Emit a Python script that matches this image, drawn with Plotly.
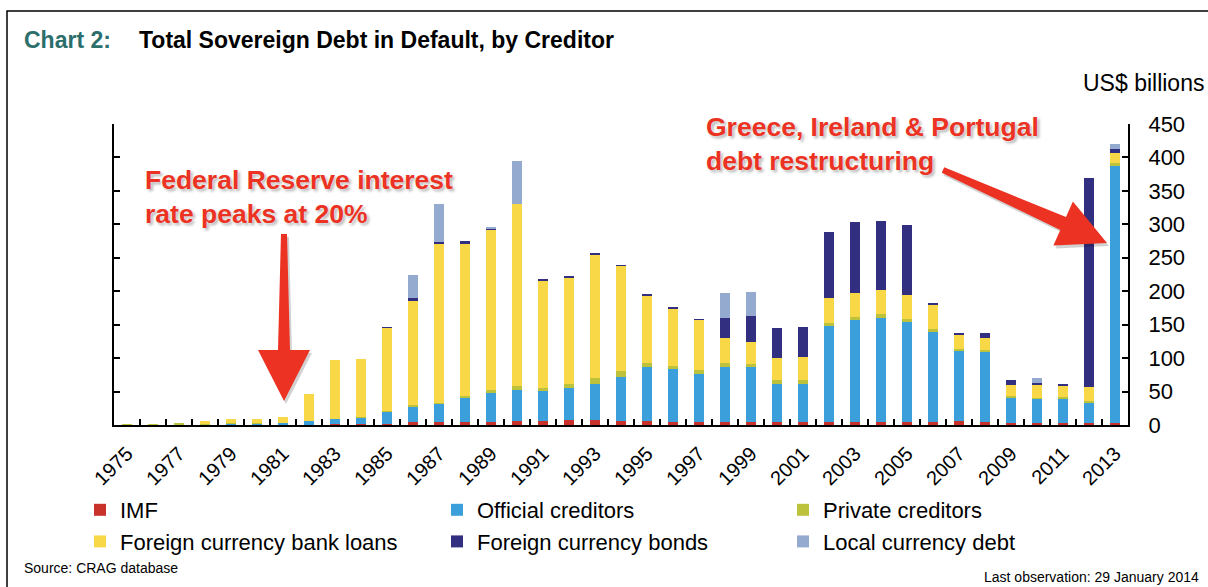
import numpy as np
import plotly.graph_objects as go

# ---- data (US$ billions) ----
years = list(range(1975, 2014))

imf = [0, 0, 0, 0, 0, 0, 0, 0.5, 1, 1.5, 2, 4, 5, 5, 5, 6, 6, 7, 7, 6,
       6, 4, 4, 4, 4, 4, 4, 4, 4, 4, 4, 4, 6, 4, 3, 3, 3, 3, 3]
official = [0, 0, 0, 1, 2, 2, 3, 5.5, 8, 10, 18, 24, 27, 36, 43, 46, 45, 49, 55, 66,
            80, 79, 73, 83, 83, 57, 58, 144, 153, 156, 150, 135, 105, 105, 37, 36, 36, 31, 384]
private = [1, 1.5, 2, 0.5, 0.5, 0.5, 0.5, 0.5, 0.5, 0.5, 1, 2, 1, 2, 4, 6, 5, 6, 8, 8,
           7, 5, 5, 5, 4, 6, 6, 5, 5, 6, 5, 4, 2.5, 3.5, 3, 1.5, 2.5, 2, 5]
bank_loans = [0, 0, 0, 5, 7, 6, 8.5, 39.5, 87.5, 86, 125, 156, 237, 228, 240, 272, 160, 159, 185, 158,
              101, 86, 75, 38.5, 33.5, 32.5, 34, 37.5, 36, 36, 35.5, 36.5, 21, 18, 17.5, 19, 16.5, 21, 15]
bonds = [0, 0, 0, 0, 0, 0, 0, 0, 0, 0, 0.5, 4, 4, 4, 2, 0, 1, 2, 1, 1,
         1, 1, 1, 30, 39, 45, 44, 98, 105, 103, 105, 3, 3.5, 7, 7.5, 4, 3, 313, 5]
local = [0, 0, 0, 0, 0, 0, 0, 0, 0, 0, 0, 34, 56, 0, 2, 65, 0, 0, 0, 0,
         0, 0, 0, 36.5, 35.5, 0, 0, 0, 0, 0, 0, 0, 0, 0, 0, 7.5, 0, 0, 8.5]

# (name, values, colour, legend column)
series = [
    ("IMF", imf, "#C8322B", "legend"),
    ("Official creditors", official, "#3A9FDB", "legend2"),
    ("Private creditors", private, "#BDC23C", "legend3"),
    ("Foreign currency bank loans", bank_loans, "#F9D848", "legend"),
    ("Foreign currency bonds", bonds, "#332F80", "legend2"),
    ("Local currency debt", local, "#94AACF", "legend3"),
]

x_labels = [str(y) for y in years]
tick_text = [str(y) if y % 2 == 1 else "" for y in years]

# ---- page geometry (pixels) ----
W, H = 1208, 587
L, R, T, B = 114, 80, 124, 162
PW, PH = W - L - R, H - T - B


def px(X):
    return (X - L) / PW


def py(Y):
    return (H - B - Y) / PH


def poly_path(pts):
    return "M " + " L ".join(f"{px(a):.5f},{py(b):.5f}" for a, b in pts) + " Z"


def arrow_pts(start, tip, w0, w1, head_len, head_half):
    s, t = np.array(start, float), np.array(tip, float)
    u = (t - s) / np.linalg.norm(t - s)
    n = np.array([-u[1], u[0]])
    base = t - head_len * u
    return [tuple(s + w0 * n), tuple(base + w1 * n), tuple(base + head_half * n),
            tuple(t), tuple(base - head_half * n), tuple(base - w1 * n), tuple(s - w0 * n)]


FONT = "Liberation Sans, Arial, sans-serif"
RED = "#EC3223"

fig = go.Figure()
for name, vals, color, lg in series:
    fig.add_trace(go.Bar(x=x_labels, y=vals, name=name, marker_color=color,
                         marker_line_width=0, legend=lg))


def legend_col(x_pix):
    return dict(orientation="v", traceorder="normal",
                xref="container", yref="container",
                x=x_pix / W, y=1 - 489 / H, xanchor="left", yanchor="top",
                font=dict(size=22, family=FONT), itemwidth=30, tracegroupgap=0,
                bgcolor="rgba(0,0,0,0)", borderwidth=0)


fig.update_layout(
    width=W, height=H,
    margin=dict(l=L, r=R, t=T, b=B, pad=0, autoexpand=False),
    barmode="stack", bargap=0.58,
    plot_bgcolor="white", paper_bgcolor="white",
    font=dict(family=FONT, color="black"),
    showlegend=True,
    legend=legend_col(80), legend2=legend_col(437), legend3=legend_col(783),
)

fig.update_xaxes(type="category", tickson="boundaries", ticks="inside", ticklen=6,
                 tickwidth=1.5, tickcolor="black", showline=True, linecolor="black",
                 linewidth=2, tickangle=-45, tickmode="array", tickvals=x_labels,
                 ticktext=tick_text, tickfont=dict(size=20, family=FONT),
                 ticklabelstandoff=7, showgrid=False, zeroline=False)

fig.update_yaxes(side="right", range=[0, 450], dtick=50, ticks="inside", ticklen=6,
                 tickwidth=1.5, tickcolor="black", showline=True, linecolor="black",
                 linewidth=2, mirror="ticks", tickfont=dict(size=22, family=FONT),
                 ticklabelstandoff=14, showgrid=False, zeroline=False)

shadow = "0px 0px 3px white, 2px 2px 3px rgba(0,0,0,0.35)"
annotations = [
    dict(text="<b>Chart 2:</b>", x=px(22), y=py(40), xanchor="left", yanchor="middle",
         font=dict(size=23, color="#2B6E6B")),
    dict(text="<b>Total Sovereign Debt in Default, by Creditor</b>", x=px(137), y=py(40),
         xanchor="left", yanchor="middle", font=dict(size=23, color="black")),
    dict(text="US$ billions", x=px(1206), y=py(83), xanchor="right", yanchor="middle",
         font=dict(size=23, color="black")),
    dict(text="Source: CRAG database", x=px(22), y=py(568), xanchor="left", yanchor="middle",
         font=dict(size=14, color="black")),
    dict(text="Last observation: 29 January 2014", x=px(1201), y=py(577), xanchor="right",
         yanchor="middle", font=dict(size=14, color="black")),
    dict(text="<b>Federal Reserve interest<br>rate peaks at 20%</b>", x=px(143), y=py(197),
         xanchor="left", yanchor="middle", align="left",
         font=dict(size=26.5, color=RED, shadow=shadow)),
    dict(text="<b>Greece, Ireland & Portugal<br>debt restructuring</b>", x=px(704), y=py(144),
         xanchor="left", yanchor="middle", align="left",
         font=dict(size=26.5, color=RED, shadow=shadow)),
]
for a in annotations:
    a.update(xref="paper", yref="paper", showarrow=False)
    a["font"].setdefault("family", FONT)
fig.update_layout(annotations=annotations)

# callout arrows and outer frame
fed = arrow_pts((284, 234), (284, 401), 3, 6, 51, 26)
grc = arrow_pts((943, 170), (1107, 243), 3, 7, 48, 24)
shapes = []
for pts in (fed, grc):
    shade = [(a + 2, b + 3) for a, b in pts]
    shapes.append(dict(type="path", path=poly_path(shade), fillcolor="rgba(0,0,0,0.18)",
                       line_width=0, layer="above"))
    shapes.append(dict(type="path", path=poly_path(pts), fillcolor=RED,
                       line_width=0, layer="above"))
shapes.append(dict(type="path", path=f"M {px(7)},{py(600)} L {px(7)},{py(11)} L {px(1215)},{py(11)}",
                   line=dict(color="black", width=1.5)))
for s in shapes:
    s.update(xref="paper", yref="paper")
fig.update_layout(shapes=shapes)

fig.write_html("out.html")
